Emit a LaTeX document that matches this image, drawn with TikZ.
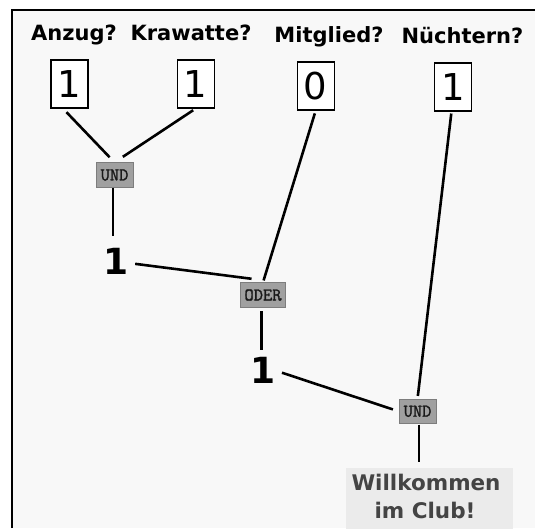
\documentclass[tikz,border=0pt]{standalone}
\usepackage{fontspec}
\setmainfont{DejaVu Sans}
\newfontfamily\gatefont{Latin Modern Mono}[FakeBold=1.5]
\usetikzlibrary{calc}
\definecolor{bg}{RGB}{248,248,248}
\definecolor{gatefill}{RGB}{160,160,160}
\definecolor{gatedraw}{RGB}{125,125,125}
\definecolor{gatetext}{RGB}{25,25,25}
\definecolor{clubfill}{RGB}{235,235,235}
\definecolor{clubtext}{RGB}{68,68,68}
\begin{document}
\begin{tikzpicture}[x=1pt,y=-1pt,
  heading/.style={font=\fontsize{21}{25}\selectfont\bfseries, anchor=base, inner sep=0},
  inbox/.style={draw=black, line width=1.1pt, fill=white, minimum width=37pt, minimum height=48pt, inner sep=0, font=\fontsize{37}{40}\selectfont},
  gate/.style={draw=gatedraw, line width=0.8pt, fill=gatefill, minimum height=24.5pt, inner sep=0, text=gatetext, font=\gatefont\fontsize{18}{20}\selectfont},
  result/.style={inner sep=0, font=\fontsize{36}{40}\selectfont\bfseries},
  wire/.style={line width=2.6pt},
  clubbox/.style={fill=clubfill, minimum width=167pt, minimum height=61pt, anchor=north, inner sep=0},
  clubtxt/.style={anchor=base, inner sep=0, text=clubtext, font=\fontsize{21.5}{26}\selectfont\bfseries}]

\useasboundingbox (0,0) rectangle (535,528);
\fill[white] (0,0) rectangle (535,528);
\fill[bg] (12,10) rectangle (535,528);
\draw[line width=2pt] (12,528) -- (12,10) -- (535,10);

% headings
\node[heading] (h1) at (74,40) {Anzug?};
\node[heading] (h2) at (191,40) {Krawatte?};
\node[heading] (h3) at (329,42) {Mitglied?};
\node[heading] (h4) at (462.5,43) {Nüchtern?};

% inputs
\node[inbox] (in1) at (69.5,84) {1};
\node[inbox] (in2) at (195.7,84) {1};
\node[inbox] (in3) at (315.7,86) {0};
\node[inbox] (in4) at (453,87) {1};

% gates
\node[gate, minimum width=37pt] (und1) at (114.5,175) {UND};
\node[gate, minimum width=44.3pt] (oder) at (263,295) {ODER};
\node[gate, minimum width=37pt, minimum height=24pt] (und2) at (417.5,411.3) {UND};

% results
\node[result] (r1) at (116,261) {1};
\node[result] (r2) at (262.6,370.5) {1};

% final box
\node[clubbox] (club) at (429.2,467.3) {};
\node[clubtxt] (t1) at (426,490.7) {Willkommen};
\node[clubtxt] (t2) at (425,518.3) {im Club!};

% wires
\draw[wire, shorten <=5pt, shorten >=7pt] ([xshift=-6.5pt]in1.south) -- (und1.north);
\draw[wire, shorten <=3pt, shorten >=10pt] (in2.south) -- (und1.north);
\draw[wire, shorten >=12pt] ([xshift=-1.5pt]und1.south) -- ([xshift=-1.5pt]und1.south |- r1.north);
\draw[wire, shorten <=6.5pt, shorten >=4.5pt] ([yshift=-2pt]r1.east) -- ([xshift=-7pt,yshift=3pt]oder.north);
\draw[wire, shorten <=3pt, shorten >=2pt] (in3.south) -- (oder.north);
\draw[wire, shorten <=3.4pt, shorten >=7pt] ([xshift=-1.5pt]oder.south) -- ([xshift=-1.5pt]oder.south |- r2.north);
\draw[wire, shorten <=7pt, shorten >=6pt] (r2.east) -- (und2.west);
\draw[wire, shorten <=2pt, shorten >=3pt] ([xshift=-1.5pt]in4.south) -- (und2.north);
\draw[wire, shorten <=1pt, shorten >=5.5pt] ([xshift=1.5pt]und2.south) -- ([xshift=1.5pt]und2.south |- club.north);
\end{tikzpicture}
\end{document}
